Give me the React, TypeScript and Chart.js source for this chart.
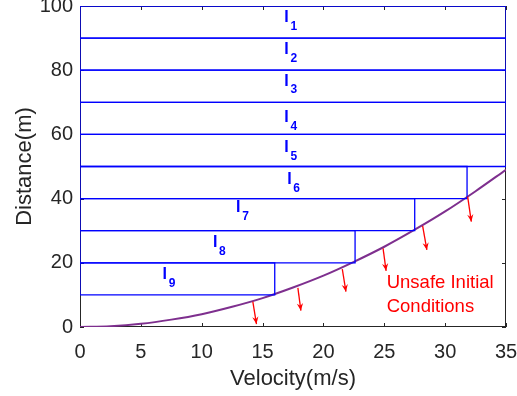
import React, { useEffect, useRef } from "react";
import { Chart, registerables } from "chart.js";
Chart.register(...registerables);

// braking curve (velocity -> distance)
const velocity = [0, 2.5, 5, 7.5, 10, 12.5, 15, 17.5, 20, 22.5, 25, 27.5, 30, 32.5, 35];
const stopDistance = [0, 0.25, 1, 2.3, 4, 6.3, 9, 12.3, 16, 20.3, 25, 30.3, 36, 42.3, 49];

// intervals I1..I9
const intervalNames = ["1", "2", "3", "4", "5", "6", "7", "8", "9"];
const intervalLow = [90, 80, 70, 60, 50, 40, 30, 20, 10];
const intervalHigh = [100, 90, 80, 70, 60, 50, 40, 30, 20];
const intervalMaxVel = [35, 35, 35, 35, 35, 31.8, 27.5, 22.6, 16];
const labelX = [16.97, 16.97, 16.97, 16.97, 16.97, 17.2, 13.0, 11.1, 6.96];
const labelY = [96.3, 86.3, 76.6, 65.1, 55.8, 45.8, 37.1, 26.2, 16.4];

// red arrows
const arrowStartX = [14.2, 17.9, 21.55, 24.9, 28.15, 31.85];
const arrowStartY = [7.9, 12.2, 18, 24.5, 31.5, 40.6];
const arrowEndX = [14.5, 18.15, 21.85, 25.15, 28.5, 32.15];
const arrowEndY = [0.9, 5.1, 11, 17.5, 24, 32.8];

// annotation
const noteLines = ["Unsafe Initial", "Conditions"];
const noteX = [25.2, 25.2];
const noteY = [13.8, 6.3];

const AXIS = "#262626";
const FONT = "'Liberation Sans', Arial, Helvetica, sans-serif";

const overlayPlugin = {
  id: "overlay",
  beforeDatasetsDraw(chart: any) {
    const { ctx, chartArea: a, scales } = chart;
    const xs = scales.x, ys = scales.y;
    ctx.save();
    ctx.strokeStyle = AXIS;
    ctx.lineWidth = 1;
    ctx.strokeRect(a.left + 0.5, a.top + 0.5, a.right - a.left - 1, a.bottom - a.top - 1);
    const tl = 4;
    ctx.beginPath();
    xs.ticks.forEach((t: any) => {
      const px = Math.round(xs.getPixelForValue(t.value)) + 0.5;
      ctx.moveTo(px, a.bottom);
      ctx.lineTo(px, a.bottom - tl);
      ctx.moveTo(px, a.top);
      ctx.lineTo(px, a.top + tl);
    });
    ys.ticks.forEach((t: any) => {
      const py = Math.round(ys.getPixelForValue(t.value)) + 0.5;
      ctx.moveTo(a.left, py);
      ctx.lineTo(a.left + tl, py);
      ctx.moveTo(a.right, py);
      ctx.lineTo(a.right - tl, py);
    });
    ctx.stroke();
    ctx.restore();
  },
  afterDatasetsDraw(chart: any) {
    const { ctx, scales } = chart;
    const xs = scales.x, ys = scales.y;
    ctx.save();
    // interval labels
    ctx.fillStyle = "#0000FF";
    ctx.textBaseline = "middle";
    intervalNames.forEach((n, i) => {
      const px = xs.getPixelForValue(labelX[i]);
      const py = ys.getPixelForValue(labelY[i]);
      ctx.font = `bold 16px ${FONT}`;
      ctx.textAlign = "center";
      ctx.fillText("I", px, py);
      ctx.font = `bold 12px ${FONT}`;
      ctx.textAlign = "left";
      ctx.fillText(n, px + 4, py + 9);
    });
    // arrows
    ctx.strokeStyle = "#FF0000";
    ctx.fillStyle = "#FF0000";
    ctx.lineWidth = 1.3;
    arrowStartX.forEach((sx, i) => {
      const x0 = xs.getPixelForValue(sx), y0 = ys.getPixelForValue(arrowStartY[i]);
      const x1 = xs.getPixelForValue(arrowEndX[i]), y1 = ys.getPixelForValue(arrowEndY[i]);
      ctx.beginPath();
      ctx.moveTo(x0, y0);
      ctx.lineTo(x1, y1);
      ctx.stroke();
      const ang = Math.atan2(y1 - y0, x1 - x0);
      const h = 8, w = 0.4;
      ctx.beginPath();
      ctx.moveTo(x1, y1);
      ctx.lineTo(x1 - h * Math.cos(ang - w), y1 - h * Math.sin(ang - w));
      ctx.lineTo(x1 - h * 0.6 * Math.cos(ang), y1 - h * 0.6 * Math.sin(ang));
      ctx.lineTo(x1 - h * Math.cos(ang + w), y1 - h * Math.sin(ang + w));
      ctx.closePath();
      ctx.fill();
    });
    // note
    ctx.font = `18.5px ${FONT}`;
    ctx.textAlign = "left";
    ctx.textBaseline = "middle";
    noteLines.forEach((t, i) => {
      ctx.fillText(t, xs.getPixelForValue(noteX[i]), ys.getPixelForValue(noteY[i]));
    });
    ctx.restore();
  },
};

export default function App() {
  const ref = useRef<HTMLCanvasElement>(null);
  useEffect(() => {
    const rects = intervalNames.map((n, i) => ({
      label: "I" + n,
      data: [
        { x: 0, y: intervalLow[i] },
        { x: intervalMaxVel[i], y: intervalLow[i] },
        { x: intervalMaxVel[i], y: intervalHigh[i] },
        { x: 0, y: intervalHigh[i] },
        { x: 0, y: intervalLow[i] },
      ],
      borderColor: "#0000FF",
      borderWidth: 1.3,
      pointRadius: 0,
      fill: false,
      tension: 0,
    }));
    const curve = {
      label: "curve",
      data: velocity.map((v, i) => ({ x: v, y: stopDistance[i] })),
      borderColor: "#7E2F8E",
      borderWidth: 2,
      pointRadius: 0,
      fill: false,
      cubicInterpolationMode: "monotone" as const,
    };
    const chart = new Chart(ref.current!, {
      type: "line",
      data: { datasets: [...rects, curve] as any },
      options: {
        animation: false,
        responsive: false,
        layout: { padding: { top: 6, right: 11, left: 0, bottom: 0 } },
        plugins: { legend: { display: false }, tooltip: { enabled: false } },
        scales: {
          x: {
            type: "linear",
            min: 0,
            max: 35,
            grid: { display: false, drawTicks: false },
            border: { display: false },
            ticks: { stepSize: 5, color: AXIS, font: { size: 20, family: FONT }, padding: 13, maxRotation: 0 },
            title: { display: true, text: "Velocity(m/s)", color: AXIS, font: { size: 22, family: FONT }, padding: { top: 2, bottom: 4 } },
            afterFit: (s: any) => { s.height = 69; s.paddingLeft = 0; s.paddingRight = 0; },
          },
          y: {
            type: "linear",
            min: 0,
            max: 100,
            grid: { display: false, drawTicks: false },
            border: { display: false },
            ticks: { stepSize: 20, color: AXIS, font: { size: 20, family: FONT }, padding: 7 },
            title: { display: true, text: "Distance(m)", color: AXIS, font: { size: 22, family: FONT }, padding: { top: 12, bottom: 0 } },
            afterFit: (s: any) => { s.width = 80; s.paddingTop = 0; s.paddingBottom = 0; },
          },
        },
      },
      plugins: [overlayPlugin],
    });
    return () => chart.destroy();
  }, []);
  return (
    <div style={{ position: "fixed", left: 0, top: 0, width: 517, height: 396, background: "#fff" }}>
      <canvas ref={ref} width={517} height={396} style={{ width: 517, height: 396 }} />
    </div>
  );
}
